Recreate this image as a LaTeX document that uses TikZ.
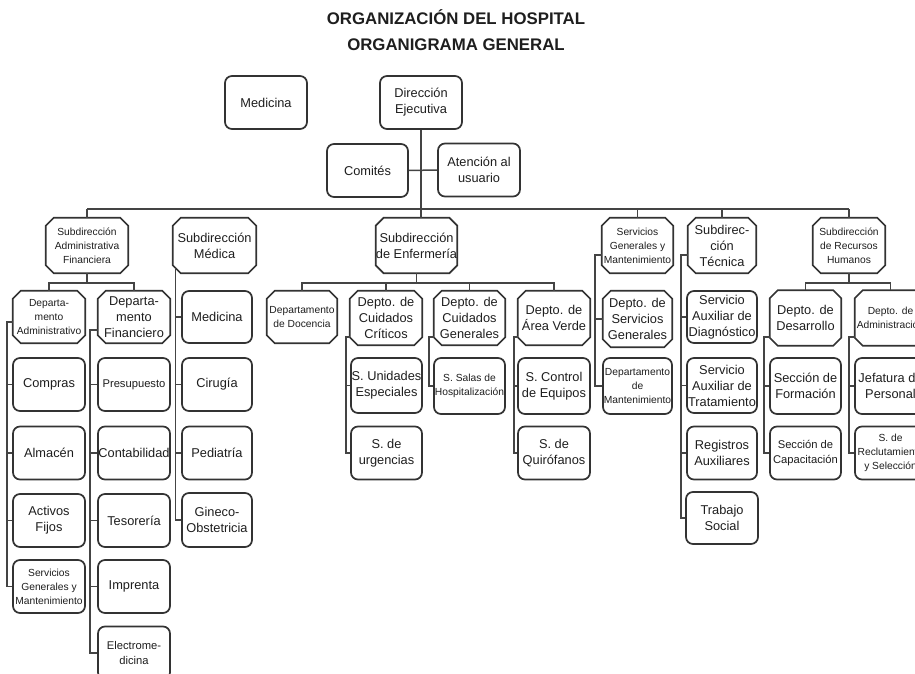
\documentclass[tikz,border=0pt]{standalone}
\usepackage{fontspec}
\setmainfont{Liberation Sans}
\usetikzlibrary{calc}
\newdimen\pxu \pxu=0.75pt
\newcommand\fnorm{\fontsize{9.6}{12}\selectfont}
\newcommand\fsmall{\fontsize{7.7}{10.6}\selectfont}
\newcommand\fmid{\fontsize{8.4}{11}\selectfont}
\definecolor{boxC}{HTML}{333333}
\definecolor{lineC}{HTML}{444444}
\definecolor{txtC}{HTML}{1E1E1E}
\tikzset{
  base/.style={minimum width=72\pxu, minimum height=53\pxu, align=center, inner sep=0pt, text=txtC, font=\fnorm},
  rbox/.style={base, draw=boxC, line width=1.7\pxu, rounded corners=7\pxu, fill=white},
  obox/.style={base},
  octline/.style={draw=boxC, line width=1.7\pxu, line join=miter},
  conn/.style={draw=lineC, line width=1.5\pxu},
  ttl/.style={font=\fontsize{12.6}{14}\selectfont\bfseries, text=txtC, inner sep=0pt}
}
\begin{document}
\begin{tikzpicture}[x=0.75pt,y=-0.75pt]
\useasboundingbox (0,0) rectangle (915,674);
% titles
\node[ttl] (t1) at (456,17) {ORGANIZACIÓN DEL HOSPITAL};
\node[ttl] (t2) at (456,45) {ORGANIGRAMA GENERAL};
% top
\node[rbox, minimum width=82\pxu] (med0) at (266,102.5) {Medicina};
\node[rbox, minimum width=82\pxu] (dir) at (421,102.5) {Dirección\\Ejecutiva};
\node[rbox, minimum width=81\pxu] (com) at (367.5,170.5) {Comités};
\node[rbox, minimum width=82\pxu] (aten) at (479,170) {Atención al\\usuario};
% level 1
\node[obox, minimum width=82\pxu, minimum height=55\pxu, font=\fsmall] (saf) at (87,245.5) {Subdirección\\Administrativa\\Financiera};
\node[obox, minimum width=83\pxu, minimum height=55\pxu] (sm) at (214.5,245.5) {Subdirección\\Médica};
\node[obox, minimum width=81\pxu, minimum height=55\pxu] (enf) at (416.5,245.5) {Subdirección\\de Enfermería};
\node[obox, minimum width=71\pxu, minimum height=55\pxu, font=\fsmall] (sgm) at (637.5,245.5) {Servicios\\Generales y\\Mantenimiento};
\node[obox, minimum width=68\pxu, minimum height=55\pxu] (tec) at (722,245.5) {Subdirec-\\ción\\Técnica};
\node[obox, minimum width=72\pxu, minimum height=55\pxu, font=\fsmall] (rh) at (849,245.5) {Subdirección\\de Recursos\\Humanos};
% level 2
\node[obox, minimum height=52\pxu, font=\fsmall] (da) at (49,317) {Departa-\\mento\\Administrativo};
\node[obox, minimum height=52\pxu] (df) at (134,317) {Departa-\\mento\\Financiero};
\node[rbox, minimum width=70\pxu, minimum height=52\pxu] (smmed) at (217,317) {Medicina};
\node[obox, minimum width=70\pxu, minimum height=52\pxu, font=\fsmall] (doc) at (302,317) {Departamento\\de Docencia};
\node[obox, minimum height=54\pxu] (cc) at (386,318) {Depto. de\\Cuidados\\Críticos};
\node[obox, minimum width=71\pxu, minimum height=54\pxu] (cg) at (469.5,318) {Depto. de\\Cuidados\\Generales};
\node[obox, minimum height=54\pxu] (av) at (554,318) {Depto. de\\Área Verde};
\node[obox, minimum width=69\pxu, minimum height=56\pxu] (dsg) at (637.5,319) {Depto. de\\Servicios\\Generales};
\node[rbox, minimum width=70\pxu, minimum height=52\pxu] (sad) at (722,317) {Servicio\\Auxiliar de\\Diagnóstico};
\node[obox, minimum width=71\pxu, minimum height=55\pxu] (des) at (805.5,318) {Depto. de\\Desarrollo};
\node[obox, minimum width=71\pxu, minimum height=55\pxu, font=\fsmall] (adm) at (890.5,318) {Depto. de\\Administración};
% level 3
\node[rbox] (compras) at (49,384.5) {Compras};
\node[rbox, font=\fmid] (presup) at (134,384.5) {Presupuesto};
\node[rbox, minimum width=70\pxu] (cir) at (217,384.5) {Cirugía};
\node[rbox, minimum width=71\pxu, minimum height=55\pxu] (uni) at (386.5,385.5) {S. Unidades\\Especiales};
\node[rbox, minimum width=71\pxu, minimum height=56\pxu, font=\fsmall] (hosp) at (469.5,386) {S. Salas de\\Hospitalización};
\node[rbox, minimum height=56\pxu] (ctrl) at (554,386) {S. Control\\de Equipos};
\node[rbox, minimum width=69\pxu, minimum height=56\pxu, font=\fsmall] (dman) at (637.5,386) {Departamento\\de\\Mantenimiento};
\node[rbox, minimum width=70\pxu, minimum height=55\pxu] (sat) at (722,385.5) {Servicio\\Auxiliar de\\Tratamiento};
\node[rbox, minimum width=71\pxu, minimum height=56\pxu] (form) at (805.5,386) {Sección de\\Formación};
\node[rbox, minimum width=71\pxu, minimum height=56\pxu] (jef) at (890.5,386) {Jefatura de\\Personal};
% level 4
\node[rbox] (alm) at (49,453) {Almacén};
\node[rbox] (cont) at (134,453) {Contabilidad};
\node[rbox, minimum width=70\pxu] (ped) at (217,453) {Pediatría};
\node[rbox, minimum width=71\pxu] (urg) at (386.5,453) {S. de\\urgencias};
\node[rbox] (quir) at (554,453) {S. de\\Quirófanos};
\node[rbox, minimum width=70\pxu] (reg) at (722,453) {Registros\\Auxiliares};
\node[rbox, minimum width=71\pxu, font=\fmid] (cap) at (805.5,453) {Sección de\\Capacitación};
\node[rbox, minimum width=71\pxu, font=\fsmall] (recl) at (890.5,453) {S. de\\Reclutamiento\\y Selección};
% level 5
\node[rbox] (act) at (49,520.5) {Activos\\Fijos};
\node[rbox] (tes) at (134,520.5) {Tesorería};
\node[rbox, minimum width=70\pxu, minimum height=54\pxu] (gin) at (217,520) {Gineco-\\Obstetricia};
\node[rbox, minimum height=52\pxu] (trab) at (722,518) {Trabajo\\Social};
% level 6
\node[rbox, font=\fsmall] (sgm2) at (49,586.5) {Servicios\\Generales y\\Mantenimiento};
\node[rbox] (imp) at (134,586.5) {Imprenta};
% level 7
\node[rbox, font=\fmid] (elec) at (134,653) {Electrome-\\dicina};
% octagon outlines
\foreach \n in {saf,sm,enf,sgm,tec,rh,da,df,doc,cc,cg,av,dsg,des,adm}
  \draw[octline] ($(\n.north west)+(8,0)$) -- ($(\n.north east)+(-8,0)$) -- ($(\n.north east)+(0,8)$) -- ($(\n.south east)+(0,-8)$) -- ($(\n.south east)+(-8,0)$) -- ($(\n.south west)+(8,0)$) -- ($(\n.south west)+(0,-8)$) -- ($(\n.north west)+(0,8)$) -- cycle;
% main connectors
\coordinate (bus) at (0,209);
\coordinate (b1) at (0,283);
\draw[conn] (dir.south) -- (dir.south |- enf.north);
\draw[conn] (com.east) -- (aten.west);
\draw[conn] (saf.north |- bus) -- (rh.north |- bus);
\foreach \n in {saf,sgm,tec,rh} \draw[conn] (\n.north |- bus) -- (\n.north);
% branch buses
\draw[conn] (saf.south) -- (saf.south |- b1);
\draw[conn] (da.north) -- (da.north |- b1) -- (df.north |- b1) -- (df.north);
\draw[conn] (enf.south) -- (enf.south |- b1);
\draw[conn] (doc.north) -- (doc.north |- b1) -- (av.north |- b1) -- (av.north);
\foreach \n in {cc,cg} \draw[conn] (\n.north |- b1) -- (\n.north);
\draw[conn] (rh.south) -- (rh.south |- b1);
\draw[conn] (des.north) -- (des.north |- b1) -- (adm.north |- b1) -- (adm.north);
% side trunks
\coordinate (tda) at (7,322);
\draw[conn] (tda -| da.west) -- (tda) |- (sgm2.west);
\foreach \c in {compras,alm,act} \draw[conn] (tda |- \c.west) -- (\c.west);
\coordinate (tdf) at (90,330);
\draw[conn] (tdf -| df.west) -- (tdf) |- (elec.west);
\foreach \c in {presup,cont,tes,imp} \draw[conn] (tdf |- \c.west) -- (\c.west);
\coordinate (tsm) at ($(sm.south west)+(3,-5)$);
\draw[conn] (tsm) |- (gin.west);
\foreach \c in {smmed,cir,ped} \draw[conn] (tsm |- \c.west) -- (\c.west);
\coordinate (tcc) at (346,337);
\draw[conn] (tcc -| cc.west) -- (tcc) |- (urg.west);
\draw[conn] (tcc |- uni.west) -- (uni.west);
\coordinate (tcg) at (429,337);
\draw[conn] (tcg -| cg.west) -- (tcg) |- (hosp.west);
\coordinate (tav) at (514,337);
\draw[conn] (tav -| av.west) -- (tav) |- (quir.west);
\draw[conn] (tav |- ctrl.west) -- (ctrl.west);
\coordinate (tsg) at (595,255);
\draw[conn] (tsg -| sgm.west) -- (tsg) |- (dman.west);
\draw[conn] (tsg |- dsg.west) -- (dsg.west);
\coordinate (ttc) at (681,255);
\draw[conn] (ttc -| tec.west) -- (ttc) |- (trab.west);
\foreach \c in {sad,sat,reg} \draw[conn] (ttc |- \c.west) -- (\c.west);
\coordinate (tde) at (764,337);
\draw[conn] (tde -| des.west) -- (tde) |- (cap.west);
\draw[conn] (tde |- form.west) -- (form.west);
\coordinate (tad) at (849,337);
\draw[conn] (tad -| adm.west) -- (tad) |- (recl.west);
\draw[conn] (tad |- jef.west) -- (jef.west);
\end{tikzpicture}
\end{document}
